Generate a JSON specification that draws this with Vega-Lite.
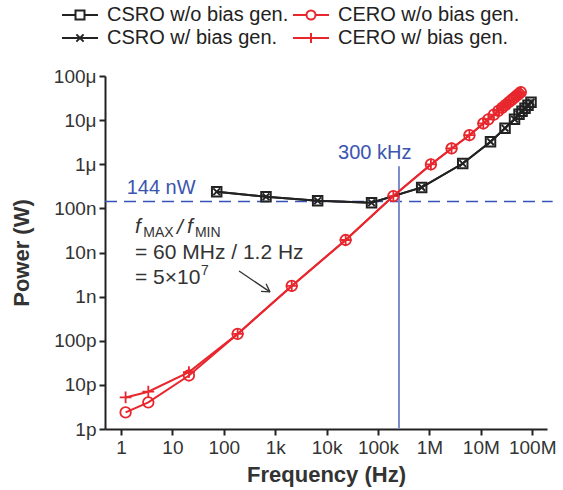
{
  "$schema": "https://vega.github.io/schema/vega-lite/v6.json",
  "width": 442,
  "height": 353,
  "autosize": {"type": "none"},
  "padding": {"left": 105, "top": 76, "right": 16, "bottom": 61},
  "background": "white",
  "config": {
    "font": "Liberation Sans",
    "view": {"stroke": null},
    "legend": {
      "title": null, "orient": "none", "legendX": -35, "legendY": -71, "columns": 2, "direction": "horizontal",
      "symbolSize": 324, "symbolStrokeWidth": 2, "symbolOpacity": 1, "symbolFillColor": "transparent",
      "labelFontSize": 20, "labelColor": "#222",
      "labelOffset": 17, "columnPadding": 0, "rowPadding": 3, "padding": 0, "labelLimit": 400
    }
  },
  "datasets": {
    "power": [
      {"s": "CSRO w/o bias gen.", "f": 72.8, "p": 2.38e-7},
      {"s": "CSRO w/o bias gen.", "f": 662, "p": 1.83e-7},
      {"s": "CSRO w/o bias gen.", "f": 6700, "p": 1.49e-7},
      {"s": "CSRO w/o bias gen.", "f": 75000, "p": 1.34e-7},
      {"s": "CSRO w/o bias gen.", "f": 708000, "p": 2.99e-7},
      {"s": "CSRO w/o bias gen.", "f": 4450000, "p": 1.04e-6},
      {"s": "CSRO w/o bias gen.", "f": 15450000, "p": 3.24e-6},
      {"s": "CSRO w/o bias gen.", "f": 29600000, "p": 6.56e-6},
      {"s": "CSRO w/o bias gen.", "f": 45300000, "p": 1.05e-5},
      {"s": "CSRO w/o bias gen.", "f": 55400000, "p": 1.36e-5},
      {"s": "CSRO w/o bias gen.", "f": 63400000, "p": 1.59e-5},
      {"s": "CSRO w/o bias gen.", "f": 72500000, "p": 1.86e-5},
      {"s": "CSRO w/o bias gen.", "f": 82900000, "p": 2.17e-5},
      {"s": "CSRO w/o bias gen.", "f": 94800000, "p": 2.54e-5},
      {"s": "CSRO w/ bias gen.", "f": 72.8, "p": 2.38e-7},
      {"s": "CSRO w/ bias gen.", "f": 662, "p": 1.83e-7},
      {"s": "CSRO w/ bias gen.", "f": 6700, "p": 1.49e-7},
      {"s": "CSRO w/ bias gen.", "f": 75000, "p": 1.34e-7},
      {"s": "CSRO w/ bias gen.", "f": 708000, "p": 2.99e-7},
      {"s": "CSRO w/ bias gen.", "f": 4450000, "p": 1.04e-6},
      {"s": "CSRO w/ bias gen.", "f": 15450000, "p": 3.24e-6},
      {"s": "CSRO w/ bias gen.", "f": 29600000, "p": 6.56e-6},
      {"s": "CSRO w/ bias gen.", "f": 45300000, "p": 1.05e-5},
      {"s": "CSRO w/ bias gen.", "f": 55400000, "p": 1.36e-5},
      {"s": "CSRO w/ bias gen.", "f": 63400000, "p": 1.59e-5},
      {"s": "CSRO w/ bias gen.", "f": 72500000, "p": 1.86e-5},
      {"s": "CSRO w/ bias gen.", "f": 82900000, "p": 2.17e-5},
      {"s": "CSRO w/ bias gen.", "f": 94800000, "p": 2.54e-5},
      {"s": "CERO w/o bias gen.", "f": 1.23, "p": 2.38e-12},
      {"s": "CERO w/o bias gen.", "f": 3.4, "p": 4.0e-12},
      {"s": "CERO w/o bias gen.", "f": 21, "p": 1.63e-11},
      {"s": "CERO w/o bias gen.", "f": 186, "p": 1.43e-10},
      {"s": "CERO w/o bias gen.", "f": 2100, "p": 1.75e-9},
      {"s": "CERO w/o bias gen.", "f": 23500, "p": 1.92e-8},
      {"s": "CERO w/o bias gen.", "f": 199000, "p": 1.9e-7},
      {"s": "CERO w/o bias gen.", "f": 1070000, "p": 9.9e-7},
      {"s": "CERO w/o bias gen.", "f": 2700000, "p": 2.28e-6},
      {"s": "CERO w/o bias gen.", "f": 6000000, "p": 4.55e-6},
      {"s": "CERO w/o bias gen.", "f": 11200000, "p": 8.4e-6},
      {"s": "CERO w/o bias gen.", "f": 14000000, "p": 1.04e-5},
      {"s": "CERO w/o bias gen.", "f": 18000000, "p": 1.33e-5},
      {"s": "CERO w/o bias gen.", "f": 22000000, "p": 1.62e-5},
      {"s": "CERO w/o bias gen.", "f": 26000000, "p": 1.9e-5},
      {"s": "CERO w/o bias gen.", "f": 30000000, "p": 2.18e-5},
      {"s": "CERO w/o bias gen.", "f": 35000000, "p": 2.54e-5},
      {"s": "CERO w/o bias gen.", "f": 40000000, "p": 2.89e-5},
      {"s": "CERO w/o bias gen.", "f": 45000000, "p": 3.24e-5},
      {"s": "CERO w/o bias gen.", "f": 50000000, "p": 3.59e-5},
      {"s": "CERO w/o bias gen.", "f": 55000000, "p": 3.93e-5},
      {"s": "CERO w/o bias gen.", "f": 60000000, "p": 4.3e-5},
      {"s": "CERO w/ bias gen.", "f": 1.23, "p": 5.2e-12},
      {"s": "CERO w/ bias gen.", "f": 3.4, "p": 7.0e-12},
      {"s": "CERO w/ bias gen.", "f": 21, "p": 1.95e-11},
      {"s": "CERO w/ bias gen.", "f": 186, "p": 1.43e-10},
      {"s": "CERO w/ bias gen.", "f": 2100, "p": 1.75e-9},
      {"s": "CERO w/ bias gen.", "f": 23500, "p": 1.92e-8},
      {"s": "CERO w/ bias gen.", "f": 199000, "p": 1.9e-7},
      {"s": "CERO w/ bias gen.", "f": 1070000, "p": 9.9e-7},
      {"s": "CERO w/ bias gen.", "f": 2700000, "p": 2.28e-6},
      {"s": "CERO w/ bias gen.", "f": 6000000, "p": 4.55e-6},
      {"s": "CERO w/ bias gen.", "f": 11200000, "p": 8.4e-6},
      {"s": "CERO w/ bias gen.", "f": 14000000, "p": 1.04e-5},
      {"s": "CERO w/ bias gen.", "f": 18000000, "p": 1.33e-5},
      {"s": "CERO w/ bias gen.", "f": 22000000, "p": 1.62e-5},
      {"s": "CERO w/ bias gen.", "f": 26000000, "p": 1.9e-5},
      {"s": "CERO w/ bias gen.", "f": 30000000, "p": 2.18e-5},
      {"s": "CERO w/ bias gen.", "f": 35000000, "p": 2.54e-5},
      {"s": "CERO w/ bias gen.", "f": 40000000, "p": 2.89e-5},
      {"s": "CERO w/ bias gen.", "f": 45000000, "p": 3.24e-5},
      {"s": "CERO w/ bias gen.", "f": 50000000, "p": 3.59e-5},
      {"s": "CERO w/ bias gen.", "f": 55000000, "p": 3.93e-5},
      {"s": "CERO w/ bias gen.", "f": 60000000, "p": 4.3e-5}
    ]
  },
  "encoding": {
    "x": {
      "field": "f", "type": "quantitative",
      "scale": {"type": "log", "domain": [0.489, 194000000], "nice": false},
      "axis": {
        "values": [1, 10, 100, 1000, 10000, 100000, 1000000, 10000000, 100000000],
        "labelExpr": "['1','10','100','1k','10k','100k','1M','10M','100M'][round(log(datum.value)/LN10)]",
        "title": "Frequency (Hz)", "grid": false,
        "domainColor": "#222", "domainWidth": 2, "tickColor": "#222", "tickWidth": 2, "tickSize": 6,
        "labelFontSize": 19, "labelColor": "#333", "labelPadding": 3, "labelFlush": false, "labelOverlap": false,
        "titleFontSize": 22, "titleFontWeight": "bold", "titleColor": "#333", "titlePadding": 7
      }
    },
    "y": {
      "field": "p", "type": "quantitative",
      "scale": {"type": "log", "domain": [1e-12, 1e-4], "nice": false},
      "axis": {
        "values": [1e-12, 1e-11, 1e-10, 1e-9, 1e-8, 1e-7, 1e-6, 1e-5, 1e-4],
        "labelExpr": "['1p','10p','100p','1n','10n','100n','1μ','10μ','100μ'][round(log(datum.value)/LN10)+12]",
        "title": "Power (W)", "grid": false,
        "domainColor": "#222", "domainWidth": 2, "tickColor": "#222", "tickWidth": 2, "tickSize": 6,
        "labelFontSize": 19, "labelColor": "#333", "labelPadding": 3, "labelOverlap": false,
        "titleFontSize": 22, "titleFontWeight": "bold", "titleColor": "#333", "titlePadding": 20
      }
    }
  },
  "layer": [
    {
      "data": {"values": [{"f": 0.489, "f2": 250000000, "p": 1.44e-7}]},
      "mark": {"type": "rule", "color": "#3553b8", "strokeWidth": 1.5, "strokeDash": [12, 7]},
      "encoding": {"x2": {"field": "f2"}}
    },
    {
      "data": {"values": [{"f": 256000, "p": 9.06e-7, "p2": 1e-12}]},
      "mark": {"type": "rule", "color": "#7b8dc8", "strokeWidth": 2},
      "encoding": {"y2": {"field": "p2"}}
    },
    {
      "data": {"name": "power"},
      "transform": [{"filter": "indexof(datum.s, 'CSRO') === 0"}],
      "mark": {"type": "line", "strokeWidth": 2, "color": "#222222"},
      "encoding": {"detail": {"field": "s", "type": "nominal"}}
    },
    {
      "data": {"name": "power"},
      "transform": [{"filter": "indexof(datum.s, 'CERO') === 0"}],
      "mark": {"type": "line", "strokeWidth": 2, "color": "#e8262d"},
      "encoding": {"detail": {"field": "s", "type": "nominal"}}
    },
    {
      "data": {"name": "power"},
      "transform": [{"filter": {"field": "s", "equal": "CSRO w/o bias gen."}}],
      "mark": {"type": "point", "filled": false, "strokeWidth": 2, "opacity": 1, "shape": "square", "size": 90, "color": "#222222"}
    },
    {
      "data": {"name": "power"},
      "transform": [{"filter": {"field": "s", "equal": "CSRO w/ bias gen."}}],
      "mark": {"type": "point", "filled": false, "strokeWidth": 2, "opacity": 1, "shape": "M-1,-1L1,1M-1,1L1,-1", "size": 45, "color": "#222222"}
    },
    {
      "data": {"name": "power"},
      "transform": [{"filter": {"field": "s", "equal": "CERO w/o bias gen."}}],
      "mark": {"type": "point", "filled": false, "strokeWidth": 1.8, "opacity": 1, "shape": "circle", "size": 110, "color": "#e8262d"}
    },
    {
      "data": {"name": "power"},
      "transform": [{"filter": {"field": "s", "equal": "CERO w/ bias gen."}}],
      "mark": {"type": "point", "filled": false, "strokeWidth": 1.8, "opacity": 1, "shape": "M-1,0H1M0,-1V1", "size": 140, "color": "#e8262d"}
    },
    {
      "data": {"name": "power"},
      "mark": {"type": "point", "filled": false, "opacity": 0, "size": 10},
      "encoding": {
        "color": {"field": "s", "type": "nominal",
          "scale": {"domain": ["CSRO w/o bias gen.", "CERO w/o bias gen.", "CSRO w/ bias gen.", "CERO w/ bias gen."], "range": ["#222222", "#e8262d", "#222222", "#e8262d"]}},
        "shape": {"field": "s", "type": "nominal",
          "scale": {"domain": ["CSRO w/o bias gen.", "CERO w/o bias gen.", "CSRO w/ bias gen.", "CERO w/ bias gen."],
            "range": ["M-2,0H-0.5M0.5,0H2M-0.5,-0.5H0.5V0.5H-0.5Z", "M-2,0H-0.5M0.5,0H2M0.5,0A0.5,0.5,0,1,1,-0.5,0A0.5,0.5,0,1,1,0.5,0", "M-2,0H2M-0.4,-0.4L0.4,0.4M-0.4,0.4L0.4,-0.4", "M-2,0H2M0,-0.55V0.55"]}}
      }
    },
    {
      "data": {"values": [
        {"f": 198, "p": 3.81e-9, "f2": 792, "p2": 1.28e-9},
        {"f": 665, "p": 1.95e-9, "f2": 792, "p2": 1.28e-9},
        {"f": 529, "p": 1.32e-9, "f2": 792, "p2": 1.28e-9}
      ]},
      "mark": {"type": "rule", "color": "#333", "strokeWidth": 1.3},
      "encoding": {"x2": {"field": "f2"}, "y2": {"field": "p2"}}
    },
    {
      "data": {"values": [{"t": "144 nW", "f": 1.29, "p": 2.88e-7}]},
      "mark": {"type": "text", "align": "left", "baseline": "middle", "fontSize": 20, "color": "#3a55b0"},
      "encoding": {"text": {"field": "t"}}
    },
    {
      "data": {"values": [{"t": "300 kHz", "f": 86700, "p": 1.78e-6}]},
      "mark": {"type": "text", "align": "center", "baseline": "middle", "fontSize": 20, "color": "#3a55b0"},
      "encoding": {"text": {"field": "t"}}
    },
    {
      "data": {"values": [
        {"t": "f", "f": 1.87, "p": 3.7e-8},
        {"t": "/", "f": 12.3, "p": 3.58e-8},
        {"t": "f", "f": 19.2, "p": 3.7e-8}
      ]},
      "mark": {"type": "text", "align": "left", "baseline": "middle", "fontSize": 21, "fontStyle": "italic", "color": "#333"},
      "encoding": {"text": {"field": "t"}}
    },
    {
      "data": {"values": [
        {"t": "MAX", "f": 2.72, "p": 2.76e-8},
        {"t": "MIN", "f": 27.5, "p": 2.76e-8},
        {"t": "7", "f": 36, "p": 3.81e-9}
      ]},
      "mark": {"type": "text", "align": "left", "baseline": "middle", "fontSize": 14, "color": "#333"},
      "encoding": {"text": {"field": "t"}}
    },
    {
      "data": {"values": [
        {"t": "= 60 MHz / 1.2 Hz", "f": 1.87, "p": 9.6e-9},
        {"t": "= 5×10", "f": 1.87, "p": 2.61e-9}
      ]},
      "mark": {"type": "text", "align": "left", "baseline": "middle", "fontSize": 21, "color": "#333"},
      "encoding": {"text": {"field": "t"}}
    }
  ]
}
